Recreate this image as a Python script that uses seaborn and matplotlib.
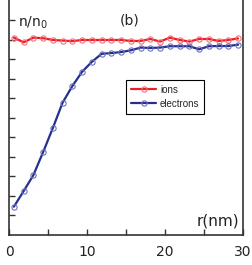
import numpy as np
import pandas as pd
import seaborn as sns
import matplotlib.pyplot as plt

# radial bin centres (nm)
r_nm = [0.625, 1.875, 3.125, 4.375, 5.625, 6.875, 8.125, 9.375, 10.625, 11.875,
        13.125, 14.375, 15.625, 16.875, 18.125, 19.375, 20.625, 21.875, 23.125,
        24.375, 25.625, 26.875, 28.125, 29.375]
ions = [1.012, 0.988, 1.012, 1.009, 1.000, 0.997, 0.994, 1.000, 1.000, 1.000,
        1.000, 1.000, 0.995, 0.995, 1.005, 0.992, 1.012, 1.000, 0.992, 1.005,
        1.005, 0.995, 1.000, 1.008]
electrons = [0.145, 0.225, 0.307, 0.425, 0.549, 0.679, 0.764, 0.837, 0.888, 0.929,
             0.933, 0.938, 0.947, 0.961, 0.959, 0.961, 0.968, 0.968, 0.968, 0.952,
             0.968, 0.969, 0.969, 0.976]

df_ion = pd.DataFrame({'r': r_nm, 'n': ions})
df_el = pd.DataFrame({'r': r_nm, 'n': electrons})

sns.set_style('white')
plt.rcParams['font.family'] = ['Liberation Sans', 'DejaVu Sans']

fig = plt.figure(figsize=(2.52, 2.65), dpi=100)
ax = fig.add_axes([9 / 252, 30 / 265, 234 / 252, 1 - 30 / 265])

sns.lineplot(data=df_ion, x='r', y='n', ax=ax, color='#ee1c25', lw=1.6,
             marker='o', ms=3.8, mfc='none', mec='#f2717a', mew=0.8, label='ions')
sns.lineplot(data=df_el, x='r', y='n', ax=ax, color='#262f8e', lw=1.6,
             marker='o', ms=3.8, mfc='none', mec='#6f74bd', mew=0.8, label='electrons')

ax.set_xlim(0, 30)
ax.set_ylim(0, 1.205)
ax.set_xticks([0, 10, 20, 30])
ax.set_xticks([5, 15, 25], minor=True)
ax.set_yticks(np.arange(0.1, 1.15, 0.1))
ax.set_yticklabels([])
ax.set_xlabel('')
ax.set_ylabel('')
ax.tick_params(axis='x', which='both', direction='in', length=4, width=1,
               color='#333333', labelsize=10, pad=7, bottom=True, top=False)
ax.tick_params(axis='y', direction='in', length=4, width=1, color='#333333',
               left=True, right=False)
for lab in ax.get_xticklabels():
    lab.set_fontfamily(['DejaVu Sans'])
    lab.set_color('#222222')

for s in ax.spines.values():
    s.set_color('#333333')
    s.set_linewidth(1.2)
ax.spines['top'].set_visible(False)

ax.text(0.038, 0.885, r'n/n$_0$', transform=ax.transAxes, fontsize=10,
        family=['DejaVu Sans'], color='#222222')
ax.text(0.474, 0.895, '(b)', transform=ax.transAxes, fontsize=10,
        family=['DejaVu Sans'], color='#222222')
ax.text(0.985, 0.04, 'r(nm)', transform=ax.transAxes, fontsize=11,
        family=['DejaVu Sans'], color='#222222', ha='right')

leg = ax.legend(loc='upper left', bbox_to_anchor=(0.5, 0.66), fontsize=7,
                frameon=True, fancybox=False, edgecolor='black', framealpha=1,
                handlelength=2.6, handletextpad=0.4, borderpad=0.5,
                labelspacing=0.4, borderaxespad=0)
leg.get_frame().set_linewidth(0.8)

fig.savefig('out.png', dpi=100)
